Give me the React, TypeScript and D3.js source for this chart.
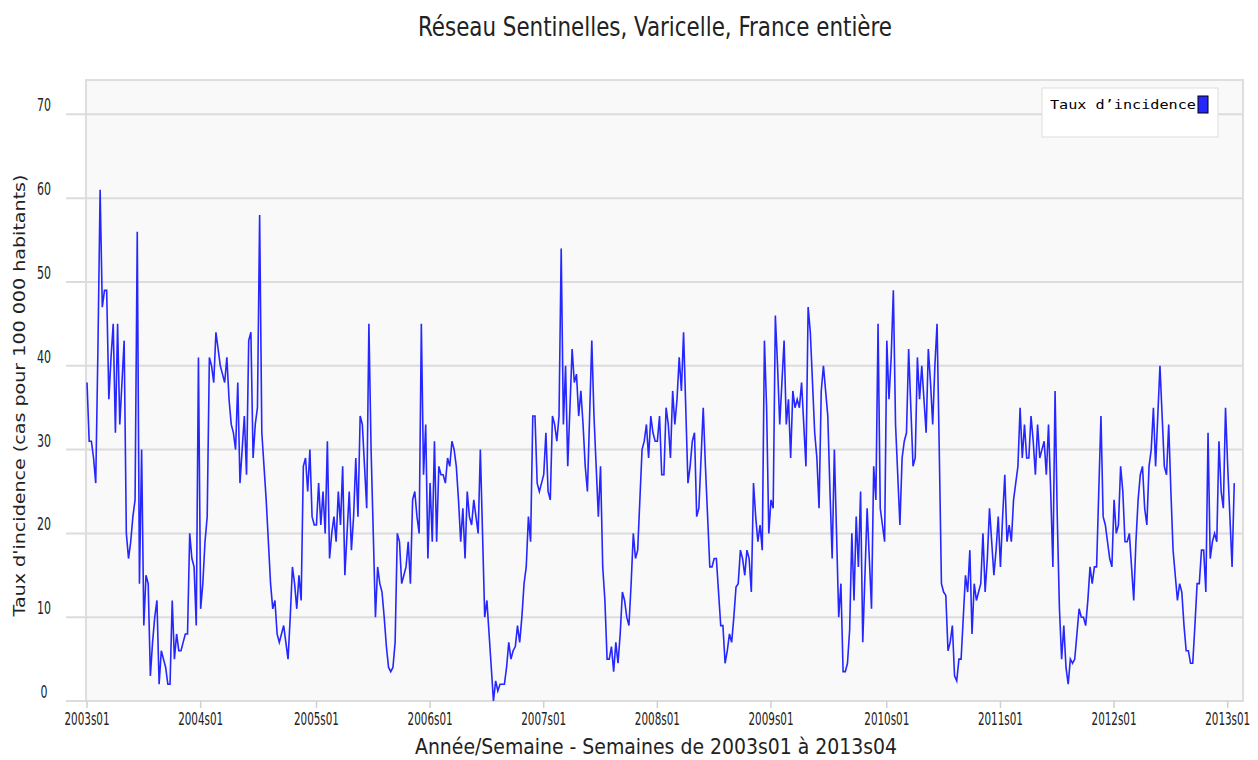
import React, { useEffect, useRef } from "react";
import * as d3 from "d3";

// weekly incidence per 100 000
const v2003 = [38, 31, 31, 29, 26, 42, 61, 47, 49, 49, 36, 41, 45, 32, 45, 33, 38, 43, 20, 17, 19, 22, 24, 56, 14, 30, 9, 15, 14, 3, 7, 10, 12, 2, 6, 5, 4, 2, 2, 12, 5, 8, 6, 6, 7, 8, 8, 20, 17, 16, 9, 41];
const v2004 = [11, 14, 19, 22, 41, 40, 38, 44, 42, 40, 39, 38, 41, 36, 33, 32, 30, 38, 26, 30, 34, 27, 43, 44, 29, 33, 35, 58, 32, 28, 24, 19, 14, 11, 12, 8, 7, 8, 9, 7, 5, 10, 16, 14, 11, 15, 12, 28, 29, 25, 30, 22, 21];
const v2005 = [21, 26, 21, 25, 20, 31, 17, 20, 22, 19, 25, 21, 28, 15, 20, 25, 18, 22, 29, 22, 34, 33, 28, 23, 45, 30, 20, 10, 16, 14, 13, 10, 6.5, 4, 3.5, 4, 7, 20, 19, 14, 15, 16, 19, 14, 24, 25, 22, 20, 45, 27, 33, 17];
const v2006 = [26, 19, 31, 19, 28, 27, 27, 26, 29, 28, 31, 30, 28, 24, 19, 23, 17, 25, 22, 21, 24, 22, 20, 30, 20, 10, 12, 8, 4, 0, 2.4, 1.2, 2, 2, 2, 4, 7, 5, 6, 6.5, 9, 7, 10, 14, 16, 22, 19, 34, 34, 26, 25, 26];
const v2007 = [27, 32, 25, 24, 34, 33, 31, 34, 54, 33, 40, 28, 35, 42, 38, 39, 34, 37, 33, 28, 25, 34, 43, 34, 28, 22, 28, 16, 12, 5, 5, 6.5, 3.5, 7, 4.5, 8, 13, 12, 10, 9, 14, 20, 17, 18, 24, 30, 31, 33, 29, 34, 32, 31];
const v2008 = [31, 34, 27, 27, 35, 33, 29, 37, 33, 36, 41, 37, 44, 35, 26, 28, 31, 32, 22, 23, 29, 35, 28, 22, 16, 16, 17, 17, 13, 9, 9, 4.5, 6, 8, 7, 10, 13.6, 14, 18, 17, 15, 18, 17, 13, 26, 22, 19, 21, 18, 43, 35, 20];
const v2009 = [24, 23, 46, 40, 33, 38, 43, 33, 36, 29, 37, 35, 36, 35, 38, 33, 28, 47, 44, 38, 32, 29, 23, 37, 40, 37, 34, 25, 17, 30, 20, 10, 14, 3.5, 3.5, 4.5, 8.5, 20, 12, 22, 16, 25, 7, 15, 23, 17, 11, 28, 24, 45, 23, 21, 19];
const v2010 = [43, 36, 41, 49, 33, 27, 21, 29, 31, 32, 42, 35, 28, 29, 41, 36, 40, 36, 32, 42, 38, 33, 40, 45, 30, 14, 13, 12.6, 6, 7, 9, 3, 2.4, 5, 5, 10, 15, 13, 18, 8, 14, 12, 13, 14, 20, 13, 17, 23, 19, 15, 18, 22];
const v2011 = [16, 22, 27, 19, 21, 19, 24, 26, 28, 35, 29, 33, 29, 29, 34, 31, 27, 33, 29, 30, 31, 27, 33, 25, 16, 37, 22, 11, 5, 9, 4, 2, 5, 4.5, 5, 8, 11, 10, 10, 9, 12, 16, 14, 16, 16, 25, 34, 22, 21, 19, 17, 16];
const v2012 = [24, 20, 21, 28, 25, 19, 19, 20, 16, 12, 19, 24, 27, 28, 23, 21, 28, 30, 35, 28, 34, 40, 34, 28, 27, 33, 25, 18, 15, 12, 14, 13, 9, 6, 6, 4.5, 4.5, 9, 14, 14, 18, 18, 13, 32, 17, 19, 20, 19, 31, 25, 23, 35];
const v2013 = [28, 22, 16, 26];

const years = [2003, 2004, 2005, 2006, 2007, 2008, 2009, 2010, 2011, 2012, 2013];
const yearValues = [v2003, v2004, v2005, v2006, v2007, v2008, v2009, v2010, v2011, v2012, v2013];
const yTicks = [0, 10, 20, 30, 40, 50, 60, 70];

const title = "Réseau Sentinelles, Varicelle, France entière";
const xTitle = "Année/Semaine - Semaines de 2003s01 à 2013s04";
const yTitle = "Taux d'incidence (cas pour 100 000 habitants)";
const legendLabel = "Taux d\u2019incidence";

const condensed = "'DejaVu Sans Condensed', 'Liberation Sans Narrow', 'Open Sans', sans-serif";

export default function App() {
  const ref = useRef<SVGSVGElement>(null);

  useEffect(() => {
    const width = 1258;
    const height = 760;
    const plot = { left: 86, right: 1243, top: 80, bottom: 701 };

    const data: { i: number; label: string; v: number }[] = [];
    yearValues.forEach((vals, k) => {
      vals.forEach((v, w) => {
        data.push({ i: data.length, label: `${years[k]}s${String(w + 1).padStart(2, "0")}`, v });
      });
    });
    const tickIdx = data.filter((d) => d.label.endsWith("s01"));

    const svg = d3.select(ref.current);
    svg.selectAll("*").remove();
    svg.attr("width", width).attr("height", height);

    const x = d3.scaleLinear().domain([0, 529]).range([plot.left + 1, plot.right]);
    const y = d3.scaleLinear().domain([0, 74.1]).range([plot.bottom, plot.top]);

    // plot background
    svg
      .append("rect")
      .attr("x", plot.left)
      .attr("y", plot.top)
      .attr("width", plot.right - plot.left)
      .attr("height", plot.bottom - plot.top)
      .attr("fill", "#f9f9f9")
      .attr("stroke", "#dedede")
      .attr("stroke-width", 2);

    // horizontal grid + y labels
    svg
      .append("g")
      .selectAll("line")
      .data(yTicks)
      .enter()
      .append("line")
      .attr("x1", 66)
      .attr("x2", plot.right)
      .attr("y1", (d) => y(d))
      .attr("y2", (d) => y(d))
      .attr("stroke", "#dcdcdc")
      .attr("stroke-width", 2);

    svg
      .append("g")
      .selectAll("text")
      .data(yTicks)
      .enter()
      .append("text")
      .attr("x", 44)
      .attr("y", (d) => y(d) - 3)
      .attr("text-anchor", "middle")
      .attr("font-family", condensed)
      .attr("font-size", 17)
      .attr("textLength", (d) => String(d).length * 7)
      .attr("lengthAdjust", "spacingAndGlyphs")
      .attr("fill", "#222")
      .text((d) => d);

    // x ticks + labels
    svg
      .append("g")
      .selectAll("line")
      .data(tickIdx)
      .enter()
      .append("line")
      .attr("x1", (d) => x(d.i))
      .attr("x2", (d) => x(d.i))
      .attr("y1", plot.bottom)
      .attr("y2", plot.bottom + 7)
      .attr("stroke", "#cfcfcf")
      .attr("stroke-width", 1.5);

    svg
      .append("g")
      .selectAll("text")
      .data(tickIdx)
      .enter()
      .append("text")
      .attr("x", (d) => x(d.i))
      .attr("y", 725)
      .attr("text-anchor", "middle")
      .attr("font-family", condensed)
      .attr("font-size", 17)
      .attr("textLength", 45)
      .attr("lengthAdjust", "spacingAndGlyphs")
      .attr("fill", "#222")
      .text((d) => d.label);

    // the series
    const line = d3
      .line<{ i: number; v: number }>()
      .x((d) => x(d.i))
      .y((d) => y(d.v));

    svg
      .append("path")
      .datum(data)
      .attr("d", line)
      .attr("fill", "none")
      .attr("stroke", "#2626ff")
      .attr("stroke-width", 1.6)
      .attr("stroke-linejoin", "miter");

    // titles
    svg
      .append("text")
      .attr("x", 655)
      .attr("y", 36)
      .attr("text-anchor", "middle")
      .attr("font-family", condensed)
      .attr("font-size", 26)
      .attr("textLength", 474)
      .attr("lengthAdjust", "spacingAndGlyphs")
      .attr("fill", "#222")
      .text(title);

    svg
      .append("text")
      .attr("x", 656)
      .attr("y", 754)
      .attr("text-anchor", "middle")
      .attr("font-family", condensed)
      .attr("font-size", 21)
      .attr("textLength", 482)
      .attr("lengthAdjust", "spacingAndGlyphs")
      .attr("fill", "#222")
      .text(xTitle);

    svg
      .append("text")
      .attr("transform", `translate(25, ${(plot.top + plot.bottom) / 2 + 5}) rotate(-90)`)
      .attr("text-anchor", "middle")
      .attr("font-family", "'DejaVu Sans', sans-serif")
      .attr("font-size", 16)
      .attr("textLength", 442)
      .attr("lengthAdjust", "spacingAndGlyphs")
      .attr("fill", "#222")
      .text(yTitle);

    // legend
    const lg = svg.append("g").attr("transform", "translate(1042, 88)");
    lg.append("rect")
      .attr("width", 176)
      .attr("height", 49)
      .attr("fill", "#ffffff")
      .attr("stroke", "#dddddd")
      .attr("stroke-width", 1);
    lg.append("text")
      .attr("x", 8)
      .attr("y", 21)
      .attr("font-family", "'DejaVu Sans Mono', monospace")
      .attr("font-size", 13)
      .attr("textLength", 146)
      .attr("lengthAdjust", "spacingAndGlyphs")
      .attr("fill", "#000")
      .text(legendLabel);
    lg.append("rect")
      .attr("x", 156)
      .attr("y", 8)
      .attr("width", 10)
      .attr("height", 17)
      .attr("fill", "#2626ff")
      .attr("stroke", "#000")
      .attr("stroke-width", 1);
  }, []);

  return <svg ref={ref} style={{ position: "absolute", left: 0, top: 0, display: "block" }} />;
}
